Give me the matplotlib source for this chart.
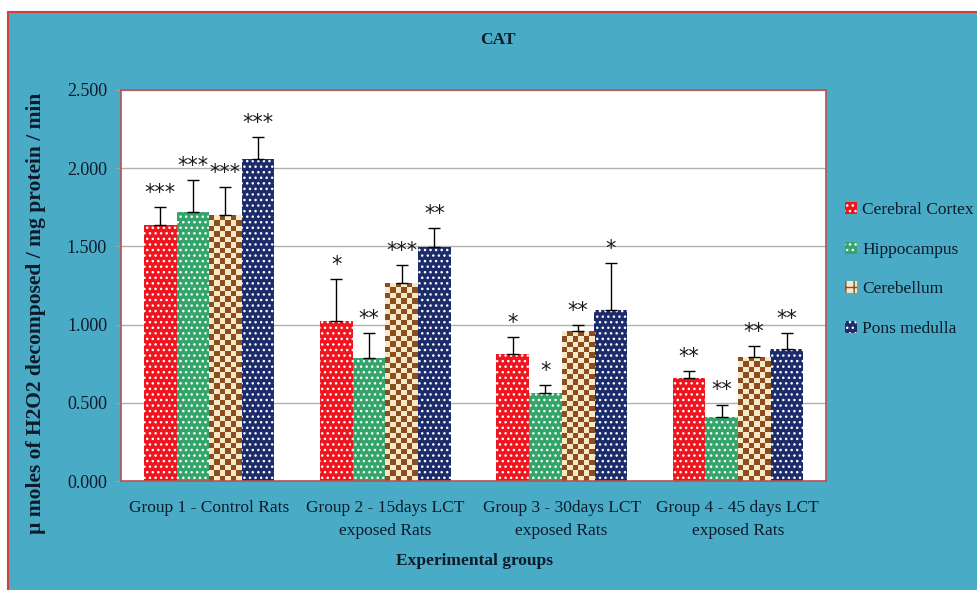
import numpy as np
import matplotlib
matplotlib.use("Agg")
import matplotlib.pyplot as plt
from matplotlib.patches import Rectangle

plt.rcParams['font.family'] = ['Liberation Serif', 'DejaVu Serif']
plt.rcParams['hatch.linewidth'] = 1.0

groups = ["Group 1 - Control Rats", "Group 2 - 15days LCT\nexposed Rats",
          "Group 3 - 30days LCT\nexposed Rats", "Group 4 - 45 days LCT\nexposed Rats"]
series = ["Cerebral Cortex", "Hippocampus", "Cerebellum", "Pons medulla"]

cerebral_cortex = [1.637, 1.023, 0.812, 0.659]
hippocampus = [1.720, 0.786, 0.563, 0.409]
cerebellum = [1.700, 1.266, 0.959, 0.793]
pons_medulla = [2.060, 1.496, 1.093, 0.844]

err_cc = [0.115, 0.270, 0.110, 0.045]
err_hc = [0.205, 0.160, 0.050, 0.080]
err_cb = [0.180, 0.115, 0.040, 0.070]
err_pm = [0.140, 0.120, 0.300, 0.100]

sig_cc = ["***", "*", "*", "**"]
sig_hc = ["***", "**", "*", "**"]
sig_cb = ["***", "***", "**", "**"]
sig_pm = ["***", "**", "*", "**"]

yticks = [0.0, 0.5, 1.0, 1.5, 2.0, 2.5]

values = [cerebral_cortex, hippocampus, cerebellum, pons_medulla]
errors = [err_cc, err_hc, err_cb, err_pm]
sigs = [sig_cc, sig_hc, sig_cb, sig_pm]

teal = '#4aabc6'
text_col = '#0d1b2a'
colors = ['#f0141e', '#33a56a', '#f7e6c4', '#1c2c6b']
hatches = ['...', '...', '++', '...']
hcolors = ['white', 'white', '#8a4d1e', 'white']

fig = plt.figure(figsize=(9.77, 5.90), dpi=100)
fig.patch.set_facecolor('white')
bg = Rectangle((8/977, -0.01), 1.0, 1 - 12/590 + 0.01, transform=fig.transFigure,
               facecolor=teal, edgecolor='#d04040', linewidth=1.5, zorder=-10)
fig.patches.append(bg)

ax = fig.add_axes([121/977, 1 - 481/590, 705/977, 391/590])
ax.set_zorder(1)
ax.set_facecolor('white')
for s in ax.spines.values():
    s.set_color('#c0504d')
    s.set_linewidth(1.2)
ax.set_ylim(0, 2.5)
ax.set_xlim(-0.5, 3.5)
ax.set_yticks(yticks)
ax.set_yticklabels([f"{v:.3f}" for v in yticks], fontsize=13, color=text_col)
ax.yaxis.grid(True, color='#b0b0b0', linewidth=1.0)
ax.set_axisbelow(True)
ax.tick_params(axis='y', length=4, color='#a0a0a0', pad=6)
ax.tick_params(axis='x', length=0, pad=14)

x = np.arange(len(groups))
w = 0.185
offsets = (np.arange(4) - 1.5) * w

containers = []
for i in range(4):
    bc = ax.bar(x + offsets[i], values[i], width=w, color=colors[i],
                edgecolor=hcolors[i], hatch=hatches[i],
                linewidth=0, label=series[i], zorder=2)
    containers.append(bc)
    ax.errorbar(x + offsets[i], values[i], yerr=[np.zeros(4), errors[i]], fmt='none',
                ecolor='black', elinewidth=1.0, capsize=4, capthick=1.0, zorder=4)
    for xi, v, e, s in zip(x + offsets[i], values[i], errors[i], sigs[i]):
        ax.annotate(s, (xi, v + e), xytext=(0, 3), textcoords='offset points',
                    ha='center', va='bottom', fontsize=15, color='#1a1a1a',
                    family='DejaVu Sans')

# checkerboard texture for cerebellum bars, clipped to the bars
sq = 5.4
for p in containers[2].patches:
    x0, y0 = p.get_x(), p.get_y()
    pw, ph = p.get_width(), p.get_height()
    (px0, py0) = ax.transData.transform((x0, y0))
    (px1, py1) = ax.transData.transform((x0 + pw, y0 + ph))
    nc = max(1, int(round((px1 - px0) / sq)))
    nr = max(1, int(round((py1 - py0) / sq)))
    ii, jj = np.meshgrid(np.arange(nc), np.arange(nr))
    mask = (ii + jj) % 2 == 0
    img = np.zeros((nr, nc, 3))
    img[mask] = np.array([138, 77, 30]) / 255
    img[~mask] = np.array([247, 232, 200]) / 255
    im = ax.imshow(img, extent=(x0, x0 + pw, y0, y0 + ph), origin='lower',
                   aspect='auto', interpolation='nearest', zorder=2.5)
    im.set_clip_path(p)

ax.set_xlim(-0.5, 3.5)
ax.set_ylim(0, 2.5)
ax.set_xticks(x)
ax.set_xticklabels(groups, fontsize=12.5, color=text_col, linespacing=1.55)

fig.text(498/977, 1 - 40/590, "CAT", ha='center', va='center', fontsize=12.5,
         fontweight='bold', color=text_col)
fig.text(475/977, 1 - 561/590, "Experimental groups", ha='center', va='center',
         fontsize=12.5, fontweight='bold', color=text_col)
fig.text(36/977, 1 - 313/590, "µ moles of H2O2 decomposed / mg protein / min",
         ha='center', va='center', rotation=90, fontsize=15.5, fontweight='bold',
         color=text_col)

leg = fig.legend(handles=containers, labels=series, loc='upper left',
                 bbox_to_anchor=(838/977, 1 - 195/590), frameon=False,
                 fontsize=12.5, handlelength=0.7, handleheight=0.7,
                 handletextpad=0.3, labelspacing=1.35, borderaxespad=0)
for t in leg.get_texts():
    t.set_color(text_col)

fig.savefig("out.png", dpi=100, facecolor=fig.get_facecolor())
